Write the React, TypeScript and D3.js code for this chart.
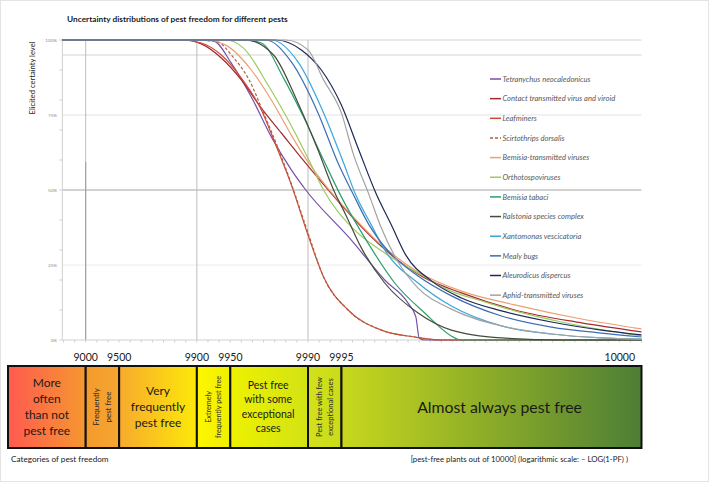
import React from "react";
import * as d3 from "d3";

// ---------- data ----------
// x values are on the log scale -LOG10(1 - PF); y values are the elicited certainty level (%)
type Pt = [number, number];

const seriesNames = [
  "Tetranychus neocaledonicus",
  "Contact transmitted virus and viroid",
  "Leafminers",
  "Scirtothrips dorsalis",
  "Bemisia-transmitted viruses",
  "Orthotospoviruses",
  "Bemisia tabaci",
  "Ralstonia species complex",
  "Xantomonas vescicatoria",
  "Mealy bugs",
  "Aleurodicus dispercus",
  "Aphid-transmitted viruses",
];

const tetranychus: Pt[] = [[0.79, 100], [2.04, 100], [2.15, 99.7], [2.31, 92.3], [2.49, 81], [2.67, 67.7], [2.85, 56.7], [2.98, 50], [3.39, 33.3], [3.69, 20], [3.9, 12.3], [3.97, 7.7], [4.0, 0.7], [4.05, 0], [6, 0]];
const contactVirus: Pt[] = [[0.79, 100], [1.88, 100], [2.04, 98.7], [2.22, 94], [2.4, 86.7], [2.58, 77.3], [2.76, 69], [2.94, 60.7], [3.12, 52.7], [3.3, 45], [3.48, 37.7], [3.75, 28.3], [4.05, 20.7], [4.38, 15.7], [4.86, 10], [5.46, 5.7], [6, 2.7]];
const leafminers: Pt[] = [[0.79, 100], [1.86, 100], [2.04, 99], [2.22, 95], [2.4, 87.3], [2.58, 76.7], [2.71, 65], [2.85, 51.7], [3.0, 35], [3.14, 21], [3.36, 10], [3.66, 3.3], [3.96, 1], [4.2, 0], [6, 0]];
const scirtothrips: Pt[] = [[0.79, 100], [1.99, 100], [2.19, 99.3], [2.31, 95], [2.47, 86.7], [2.6, 75.7], [2.73, 64], [2.86, 51], [3.0, 35.7], [3.14, 21], [3.36, 10], [3.66, 3.3], [3.96, 1], [4.2, 0], [6, 0]];
const bemisiaViruses: Pt[] = [[0.79, 100], [2.08, 100], [2.26, 98.3], [2.49, 90], [2.67, 80], [2.85, 68.3], [2.94, 62.7], [3.12, 53.3], [3.39, 41.7], [3.66, 31.7], [3.99, 22.7], [4.38, 16.3], [4.86, 11.7], [5.46, 7], [6, 3.7]];
const orthotospo: Pt[] = [[0.79, 100], [2.26, 100], [2.42, 97.3], [2.64, 85], [2.87, 70], [3.03, 58.3], [3.14, 50], [3.39, 37.7], [3.69, 29], [3.99, 22.3], [4.26, 16.7], [4.59, 12.7], [4.86, 9.7], [5.28, 6], [6, 1.3]];
const bemisiaTabaci: Pt[] = [[0.79, 100], [2.4, 100], [2.58, 99], [2.78, 87.3], [2.96, 74.3], [3.14, 60], [3.3, 47.7], [3.54, 32.3], [3.78, 19], [4.05, 9], [4.32, 0.7], [4.38, 0], [6, 0]];
const ralstonia: Pt[] = [[0.79, 100], [2.44, 100], [2.69, 95], [2.91, 79], [3.09, 63.3], [3.23, 50], [3.34, 41.7], [3.48, 30.7], [3.69, 19], [3.99, 9], [4.29, 3.3], [4.74, 0.7], [5.28, 0], [6, 0]];
const xantomonas: Pt[] = [[0.79, 100], [2.67, 100], [2.91, 92.7], [3.14, 75.7], [3.32, 59], [3.43, 48.3], [3.57, 38.3], [3.69, 30], [3.99, 19], [4.29, 11.3], [4.74, 4.7], [5.19, 2], [5.64, 0.7], [6, 0.3]];
const mealyBugs: Pt[] = [[0.79, 100], [2.62, 100], [2.85, 92.7], [3.09, 75.7], [3.27, 59], [3.41, 48.3], [3.55, 38.3], [3.69, 31], [3.99, 21.3], [4.29, 14.7], [4.74, 8], [5.19, 4.3], [5.64, 2.3], [6, 1]];
const aleurodicus: Pt[] = [[0.79, 100], [2.71, 100], [2.94, 96.7], [3.12, 90], [3.3, 78.3], [3.45, 64], [3.61, 49], [3.75, 38.3], [3.88, 28.3], [4.11, 19.7], [4.38, 14], [4.74, 9.7], [5.19, 6], [5.64, 3.3], [6, 1.7]];
const aphidViruses: Pt[] = [[0.79, 100], [2.8, 100], [3.0, 96.7], [3.14, 86.7], [3.3, 75.7], [3.41, 61.7], [3.55, 48.3], [3.66, 37.3], [3.81, 26], [3.99, 17.3], [4.29, 10.3], [4.74, 4.7], [5.19, 2], [5.64, 0.7], [6, 0.3]];

const seriesValues: Pt[][] = [
  tetranychus, contactVirus, leafminers, scirtothrips, bemisiaViruses, orthotospo,
  bemisiaTabaci, ralstonia, xantomonas, mealyBugs, aleurodicus, aphidViruses,
];

const yTickLabels = ["0%", "25%", "50%", "75%", "100%"];
const yTickValues = [0, 25, 50, 75, 100];

// pest-free plants out of 10000 at category boundaries
const bandBounds = [5000, 9000, 9500, 9900, 9950, 9990, 9995, 10000];
const boundaryLabels = ["9000", "9500", "9900", "9950", "9990", "9995"];
const bandLabels = [
  ["More", "often", "than not", "pest free"],
  ["Frequently", "pest free"],
  ["Very", "frequently", "pest free"],
  ["Extremely", "frequently pest free"],
  ["Pest free", "with some", "exceptional", "cases"],
  ["Pest free with few", "exceptional cases"],
  ["Almost always pest free"],
];

// ---------- styles ----------
const seriesColors = [
  "#7a4fa8", "#a32a2e", "#cb4b38", "#b0603e", "#ee9e72", "#9ccb5e",
  "#2e9e6b", "#444c3c", "#37a6da", "#3d6cb3", "#1e2858", "#a3a3a3",
];
const seriesDash = ["", "", "", "3,2", "", "", "", "", "", "", "", ""];

const bandGradients = [
  ["#ff5a50", "#f5982f"],
  ["#f39a2c", "#f6a632"],
  ["#f7aa2c", "#fde90a"],
  ["#fff600", "#eef000"],
  ["#eef200", "#d2e214"],
  ["#d3e11a", "#c9db1b"],
  ["#c8d81d", "#4d7e35"],
];
const bandRotated = [false, true, false, true, false, true, false];
const bandFont = [12, 8, 12, 7.2, 10.5, 7.5, 15.8];
const bandLine = [16, 11.7, 16, 10.7, 14.5, 11.7, 0];
const bandDx = [0, 0, 0, 0, -1, 0, 8];

const FONT = "Lato, 'Open Sans', sans-serif";

export default function App() {
  const W = 709, H = 483;
  const x = d3.scaleLinear().domain([0.301, 6]).range([8, 641.5]);
  const y = d3.scaleLinear().domain([0, 100]).range([340, 40]);
  const plotL = x(0.79), plotR = x(6);
  const toLog = (n: number) => Math.min(6, -Math.log10(1 - n / 10000));

  const line = d3.line<Pt>().x(d => x(d[0])).y(d => y(d[1])).curve(d3.curveMonotoneX);

  const bandTop = 366, bandBot = 448, bandMid = (bandTop + bandBot) / 2;
  const minorX = d3.range(8, 61).map(i => i / 10);

  const legendX = 490, legendY0 = 79, legendStep = 19.65;

  return (
    <svg width={W} height={H} style={{ position: "absolute", left: 0, top: 0, background: "#fff" }} fontFamily={FONT}>
      <defs>
        {bandGradients.map((g, i) => (
          <linearGradient key={i} id={`bg${i}`} x1="0" x2="1" y1="0" y2="0">
            <stop offset="0" stopColor={g[0]} />
            <stop offset="1" stopColor={g[1]} />
          </linearGradient>
        ))}
      </defs>
      <rect x={0.5} y={0.5} width={W - 1} height={H - 2} fill="#fff" stroke="#e4e4e4" />

      {/* title */}
      <text x={67} y={21.5} fontSize={8.3} fontWeight="bold" fill="#1a1a1a">
        Uncertainty distributions of pest freedom for different pests
      </text>

      {/* y axis title */}
      <text transform={`translate(34.5,78) rotate(-90)`} textAnchor="middle" fontSize={7.6} fill="#222">
        Elicited certainty level
      </text>

      {/* horizontal gridlines */}
      <line x1={plotL} x2={plotR} y1={y(100)} y2={y(100)} stroke="#d4d4d4" />
      <line x1={plotL} x2={plotR} y1={y(95)} y2={y(95)} stroke="#d4d4d4" />
      <line x1={plotL} x2={plotR} y1={y(75)} y2={y(75)} stroke="#e2e2e2" />
      <line x1={plotL} x2={plotR} y1={y(50)} y2={y(50)} stroke="#a6a6a6" />
      <line x1={plotL} x2={plotR} y1={y(25)} y2={y(25)} stroke="#ececec" />

      {/* vertical reference lines at 9000, 9900, 9990 */}
      {[9000, 9900, 9990].map(n => (
        <line key={n} x1={x(toLog(n))} x2={x(toLog(n))} y1={y(100)} y2={y(0)} stroke="#bdbdbd" />
      ))}
      <line x1={x(toLog(9000))} x2={x(toLog(9000))} y1={162} y2={y(0)} stroke="#9a9a9a" />

      {/* axes */}
      <line x1={plotL} x2={plotL} y1={y(100)} y2={y(0)} stroke="#d0d0d0" />
      {d3.range(0, 101, 10).map(v => (
        <line key={v} x1={plotL - 3} x2={plotL} y1={y(v)} y2={y(v)} stroke="#cfcfcf" />
      ))}
      <line x1={plotL} x2={plotR} y1={y(0)} y2={y(0)} stroke="#d0d0d0" />
      {minorX.map(v => (
        <line key={v} x1={x(v)} x2={x(v)} y1={y(0)} y2={y(0) + 2.5} stroke="#cfcfcf" />
      ))}
      {yTickValues.map((v, i) => (
        <text key={v} x={57} y={y(v)} dy="0.35em" textAnchor="end" fontSize={4.6} fill="#8a8a8a">
          {yTickLabels[i]}
        </text>
      ))}

      {/* distribution curves */}
      {seriesValues.map((s, i) => (
        <path key={i} d={line(s) || ""} fill="none" stroke={seriesColors[i]}
          strokeWidth={1.2} strokeDasharray={seriesDash[i] || undefined} />
      ))}

      {/* legend */}
      {seriesNames.map((name, i) => {
        const ly = legendY0 + i * legendStep;
        return (
          <g key={name}>
            <line x1={legendX} x2={legendX + 11} y1={ly} y2={ly} stroke={seriesColors[i]}
              strokeWidth={1.5} strokeDasharray={seriesDash[i] || undefined} />
            <text x={legendX + 12.5} y={ly} dy="0.35em" fontSize={7.6} fontStyle="italic" fill="#595959">
              {name}
            </text>
          </g>
        );
      })}

      {/* category boundary labels */}
      {boundaryLabels.map((lab, i) => (
        <text key={lab} x={x(toLog(bandBounds[i + 1]))} y={361} textAnchor="middle" fontSize={10.5} fill="#1a1a1a">
          {lab}
        </text>
      ))}
      <text x={x(6) - 6.5} y={361} textAnchor="end" fontSize={10.5} fill="#1a1a1a">10000</text>

      {/* categories of pest freedom */}
      {bandLabels.map((lines, i) => {
        const x0 = x(toLog(bandBounds[i]));
        const x1 = x(toLog(bandBounds[i + 1]));
        const cx = (x0 + x1) / 2 + bandDx[i];
        const lh = bandLine[i];
        const off = (k: number) => (k - (lines.length - 1) / 2) * lh;
        return (
          <g key={i}>
            <rect x={x0} y={bandTop} width={x1 - x0} height={bandBot - bandTop}
              fill={`url(#bg${i})`} stroke="#111" strokeWidth={2} />
            {bandRotated[i] ? (
              <g transform={`translate(${cx},${bandMid}) rotate(-90)`}>
                {lines.map((t, k) => (
                  <text key={k} x={0} y={off(k)} dy="0.35em" textAnchor="middle" fontSize={bandFont[i]} fill="#2a2a2a">
                    {t}
                  </text>
                ))}
              </g>
            ) : (
              lines.map((t, k) => (
                <text key={k} x={cx} y={bandMid + off(k)} dy="0.35em" textAnchor="middle" fontSize={bandFont[i]} fill="#1a1a1a">
                  {t}
                </text>
              ))
            )}
          </g>
        );
      })}

      <text x={11} y={462} fontSize={8.2} fill="#222">Categories of pest freedom</text>
      <text x={628} y={462} textAnchor="end" fontSize={7.8} fill="#222">
        [pest-free plants out of 10000] (logarithmic scale: – LOG(1-PF) )
      </text>
    </svg>
  );
}
